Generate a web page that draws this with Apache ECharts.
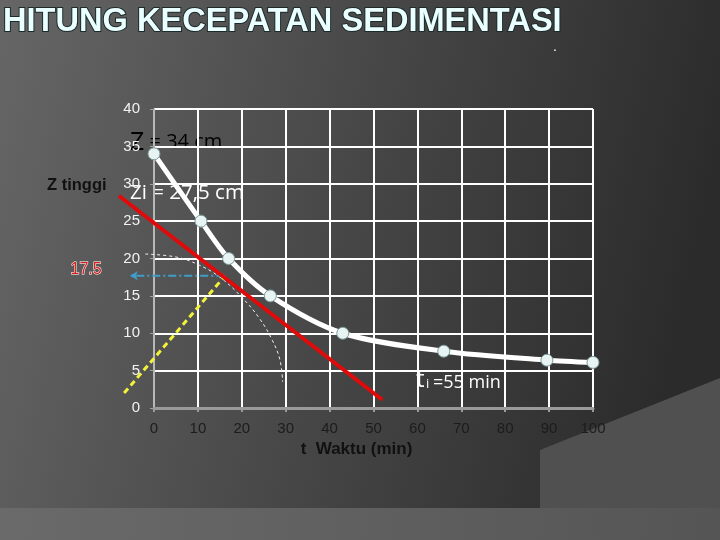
<!DOCTYPE html>
<html>
<head>
<meta charset="utf-8">
<script src="https://cdn.jsdelivr.net/npm/echarts@6/dist/echarts.min.js"></script>
<style>
	html, body { margin: 0; padding: 0; }
	#main { width: 720px; height: 540px; }
</style>
</head>
<body>
<div id="main"></div>
<script>
// data
var waktu = [0, 10.7, 17, 26.5, 43, 66, 89.5, 100];
var tinggi = [34, 25, 20, 15, 10, 7.6, 6.4, 6.1];

// red tangent line
var garisT = [-8, 52];
var garisZ = [28.4, 1.1];

// yellow dashed line
var kuningT = [-6.8, 16.2];
var kuningZ = [2, 17.7];

// blue arrow to 17.5
var panahT = [16, -5.5];
var panahZ = [17.7, 17.7];

// thin dashed curve
var lengkungT = [-2, 5, 10, 15, 20, 24, 27, 28.7, 29.3];
var lengkungZ = [20.6, 20.2, 19.2, 17.5, 14.8, 12, 9, 6.4, 3.5];

function pairs(a, b) {
	return a.map(function (v, i) {
		return [v, b[i]];
	});
}

var myChart = echarts.init(document.getElementById("main"), null, {
	renderer: "canvas"
});

// grid sizes (grid 1 is a wider copy of grid 0, so lines can go left of t = 0)
var gLeft = 154, gTop = 109, gWidth = 439, gHeight = 299;
var extra = 20;

var panahData = pairs(panahT, panahZ).map(function (p, i) {
	if (i === panahT.length - 1) {
		return { value: p, symbol: "arrow", symbolSize: [7, 8], symbolRotate: 90 };
	}
	return { value: p, symbol: "none" };
});

var option = {
	backgroundColor: {
		type: "linear", x: 0, y: 0, x2: 1, y2: 0.3,
		colorStops: [
			{ offset: 0, color: "#666666" },
			{ offset: 0.5, color: "#484848" },
			{ offset: 1, color: "#2b2b2b" }
		]
	},
	animation: false,
	grid: [
		{ left: gLeft, top: gTop, width: gWidth, height: gHeight },
		{
			left: gLeft - gWidth * extra / 100,
			top: gTop,
			width: gWidth * (100 + extra) / 100,
			height: gHeight
		}
	],
	xAxis: [
		{
			type: "value",
			min: 0,
			max: 100,
			interval: 10,
			name: "t  Waktu (min)",
			nameLocation: "middle",
			nameGap: 25,
			nameTextStyle: {
				fontFamily: "Liberation Sans",
				fontWeight: "bold",
				fontSize: 17,
				color: "#111",
				padding: [0, 34, 0, 0]
			},
			axisLine: { lineStyle: { color: "#9a9a9a", width: 3 } },
			axisTick: { show: true, length: 4, lineStyle: { color: "#9a9a9a", width: 2 } },
			axisLabel: {
				fontFamily: "Liberation Sans",
				fontSize: 15,
				color: "#1c1c1c",
				margin: 13
			},
			splitLine: { show: true, lineStyle: { color: "#ffffff", width: 2 } }
		},
		{ type: "value", gridIndex: 1, min: -extra, max: 100, show: false }
	],
	yAxis: [
		{
			type: "value",
			min: 0,
			max: 40,
			interval: 5,
			axisLine: { show: true, lineStyle: { color: "#a0a0a0", width: 1.5 } },
			axisTick: { show: true, length: 4, lineStyle: { color: "#a0a0a0" } },
			axisLabel: {
				fontFamily: "Liberation Sans",
				fontSize: 15,
				color: "#f2f2f2",
				margin: 14
			},
			splitLine: { show: true, lineStyle: { color: "#ffffff", width: 2 } }
		},
		{ type: "value", gridIndex: 1, min: 0, max: 40, show: false }
	],
	graphic: [
		{
			type: "polygon",
			silent: true,
			z: -10,
			shape: { points: [[540, 450], [720, 378], [720, 540], [540, 540]] },
			style: { fill: "#505050" }
		},
		{
			type: "rect",
			silent: true,
			z: -9,
			shape: { x: 0, y: 508, width: 720, height: 32 },
			style: {
				fill: {
					type: "linear", x: 0, y: 0, x2: 1, y2: 0,
					colorStops: [
						{ offset: 0, color: "#6a6a6a" },
						{ offset: 1, color: "#555555" }
					]
				}
			}
		},
		{
			type: "text",
			left: 2,
			top: 5,
			style: {
				text: "HITUNG KECEPATAN SEDIMENTASI",
				font: "bold 32.6px Liberation Sans",
				fill: "#eaffff",
				stroke: "#1d2a2a",
				lineWidth: 2
			}
		},
		{
			type: "text",
			left: 553,
			top: 40,
			style: { text: ".", font: "14px Liberation Sans", fill: "#fff" }
		},
		{
			type: "text",
			left: 47,
			top: 177,
			style: { text: "Z tinggi", font: "bold 16.5px Liberation Sans", fill: "#111" }
		},
		{
			type: "text",
			left: 70,
			top: 261,
			style: {
				text: "17.5",
				font: "16px Liberation Sans",
				fill: "#d42020",
				stroke: "#ffffff",
				lineWidth: 1
			}
		},
		{
			type: "text",
			left: 130,
			top: 130,
			style: {
				text: "{z|Z}{n| = 34 cm}",
				rich: {
					z: { fontFamily: "Open Sans", fontSize: 25, color: "#fff" },
					n: { fontFamily: "Open Sans", fontSize: 20, color: "#fff" }
				}
			}
		},
		{
			type: "text",
			left: 130,
			top: 183,
			style: {
				text: "Zi = 27,5 cm",
				font: "20.5px Open Sans",
				fill: "#fff"
			}
		},
		{
			type: "text",
			left: 416,
			top: 368,
			style: { text: "t", font: "24px Open Sans", fill: "#fff" }
		},
		{
			type: "text",
			left: 426,
			top: 378,
			style: { text: "i", font: "13px Open Sans", fill: "#fff" }
		},
		{
			type: "text",
			left: 433,
			top: 374,
			style: { text: "=55 min", font: "18px Open Sans", fill: "#fff" }
		}
	],
	series: [
		{
			name: "lengkung",
			type: "line",
			xAxisIndex: 1,
			yAxisIndex: 1,
			smooth: 0.4,
			clip: false,
			symbol: "none",
			data: pairs(lengkungT, lengkungZ),
			lineStyle: { color: "#f0f0f0", width: 1, type: [3, 3] },
			z: 3
		},
		{
			name: "kuning",
			type: "line",
			xAxisIndex: 1,
			yAxisIndex: 1,
			clip: false,
			symbol: "none",
			data: pairs(kuningT, kuningZ),
			lineStyle: { color: "#f2f23a", width: 3, type: [6, 4] },
			z: 4
		},
		{
			name: "panah",
			type: "line",
			xAxisIndex: 1,
			yAxisIndex: 1,
			clip: false,
			showSymbol: true,
			showAllSymbol: true,
			data: panahData,
			itemStyle: { color: "#3f9dc7" },
			lineStyle: { color: "#3f9dc7", width: 2, type: [8, 3, 2, 3] },
			z: 4
		},
		{
			name: "garis",
			type: "line",
			xAxisIndex: 1,
			yAxisIndex: 1,
			clip: false,
			symbol: "none",
			data: pairs(garisT, garisZ),
			lineStyle: { color: "#e00a0a", width: 4 },
			z: 5
		},
		{
			name: "Z",
			type: "line",
			smooth: 0.3,
			symbol: "circle",
			symbolSize: 12,
			data: pairs(waktu, tinggi),
			lineStyle: { color: "#ffffff", width: 5 },
			itemStyle: { color: "#e8f4f4", borderColor: "#7d9a9a", borderWidth: 1 },
			z: 6
		}
	]
};
myChart.setOption(option);
window.addEventListener("resize", myChart.resize);
</script>
</body>
</html>
